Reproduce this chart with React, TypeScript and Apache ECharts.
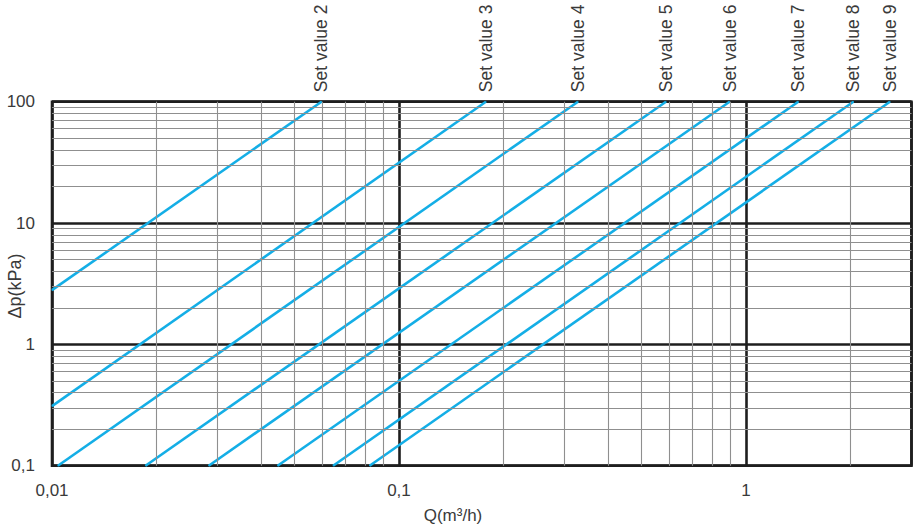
import React, { useEffect, useRef } from "react";
import * as echarts from "echarts";

// Curves: [Q (m³/h), Δp (kPa)] start and end points
const setNames = ["Set value 2", "Set value 3", "Set value 4", "Set value 5", "Set value 6", "Set value 7", "Set value 8", "Set value 9"];
const setStart: [number, number][] = [
  [0.01, 2.8],
  [0.01, 0.31],
  [0.0104, 0.1],
  [0.0186, 0.1],
  [0.0283, 0.1],
  [0.0447, 0.1],
  [0.0646, 0.1],
  [0.0823, 0.1],
];
const setEnd: [number, number][] = [
  [0.0598, 100],
  [0.178, 100],
  [0.328, 100],
  [0.588, 100],
  [0.897, 100],
  [1.415, 100],
  [2.04, 100],
  [2.6, 100],
];

// Axis ranges and labels
const xMin = 0.01;
const xMax = 3;
const yMin = 0.1;
const yMax = 100;
const xTickLabels: Record<string, string> = { "0.01": "0,01", "0.1": "0,1", "1": "1" };
const yTickLabels: Record<string, string> = { "0.1": "0,1", "1": "1", "10": "10", "100": "100" };

// Minor grid lines
const xMinor = [0.02, 0.03, 0.04, 0.05, 0.06, 0.07, 0.08, 0.09, 0.2, 0.3, 0.4, 0.5, 0.6, 0.7, 0.8, 0.9, 2];
const yMinor = [0.2, 0.3, 0.4, 0.5, 0.6, 0.7, 0.8, 0.9, 2, 3, 4, 5, 6, 7, 8, 9, 20, 30, 40, 50, 60, 70, 80, 90];

const FONT = "'Liberation Sans', Arial, Helvetica, sans-serif";
const TXT = "#3a3a3a";
const BLUE = "#14aee6";
const BLACK = "#1e1e1e";

export default function App() {
  const ref = useRef<HTMLDivElement>(null);
  useEffect(() => {
    if (!ref.current) return;
    const chart = echarts.init(ref.current, undefined, { renderer: "svg" });
    const curveSeries = setNames.map((name, i) => ({
      name,
      type: "line",
      z: 4,
      clip: false,
      symbol: "circle",
      symbolSize: 1,
      showSymbol: true,
      itemStyle: { color: BLUE },
      lineStyle: { color: BLUE, width: 2.6 },
      data: [
        { value: setStart[i] },
        {
          value: setEnd[i],
          label: {
            show: true,
            formatter: "{a}",
            position: "top",
            distance: 9,
            rotate: 90,
            align: "left",
            verticalAlign: "middle",
            fontSize: 17.5,
            fontFamily: FONT,
            color: TXT,
          },
        },
      ],
    }));
    chart.setOption({
      animation: false,
      grid: {
        left: 52,
        right: 1.5,
        top: 101.7,
        bottom: 64.3,
        containLabel: false,
        outerBoundsMode: "none",
        show: true,
        borderColor: BLACK,
        borderWidth: 2.6,
        z: 3,
        backgroundColor: "transparent",
      },
      xAxis: {
        type: "log",
        logBase: 10,
        min: xMin,
        max: xMax,
        interval: 1,
        z: 2,
        axisLine: { show: false },
        axisTick: { show: false },
        axisLabel: {
          margin: 16,
          fontSize: 17,
          fontFamily: FONT,
          color: TXT,
          showMaxLabel: false,
          formatter: (v: number) => xTickLabels[String(+v.toPrecision(6))] ?? "",
        },
        splitLine: { show: true, lineStyle: { color: BLACK, width: 2.6 } },
      },
      yAxis: {
        type: "log",
        logBase: 10,
        min: yMin,
        max: yMax,
        interval: 1,
        z: 2,
        axisLine: { show: false },
        axisTick: { show: false },
        axisLabel: {
          margin: 17,
          fontSize: 17,
          fontFamily: FONT,
          color: TXT,
          formatter: (v: number) => yTickLabels[String(+v.toPrecision(6))] ?? "",
        },
        splitLine: { show: true, lineStyle: { color: BLACK, width: 2.6 } },
      },
      graphic: [
        {
          type: "text",
          x: 453,
          y: 515,
          style: {
            text: "Q(m³/h)",
            fontSize: 17,
            fontFamily: FONT,
            fill: TXT,
            align: "center",
            verticalAlign: "middle",
          },
        },
        {
          type: "text",
          x: 15,
          y: 286,
          rotation: Math.PI / 2,
          style: {
            text: "Δp(kPa)",
            fontSize: 18,
            fontFamily: FONT,
            fill: TXT,
            align: "center",
            verticalAlign: "middle",
          },
        },
      ],
      series: [
        {
          type: "line",
          name: "grid",
          z: 1,
          symbol: "none",
          lineStyle: { width: 0 },
          data: [[xMin, yMin]],
          markLine: {
            silent: true,
            symbol: ["none", "none"],
            label: { show: false },
            lineStyle: { color: "#8f8f8f", width: 1.1, type: "solid" },
            data: [
              ...xMinor.map((v) => ({ xAxis: v })),
              ...yMinor.map((v) => ({ yAxis: v })),
            ],
          },
        },
        ...curveSeries,
      ],
    });
    return () => chart.dispose();
  }, []);
  return (
    <div
      ref={ref}
      style={{ position: "fixed", left: 0, top: 0, width: 913, height: 530, background: "#fff" }}
    />
  );
}
